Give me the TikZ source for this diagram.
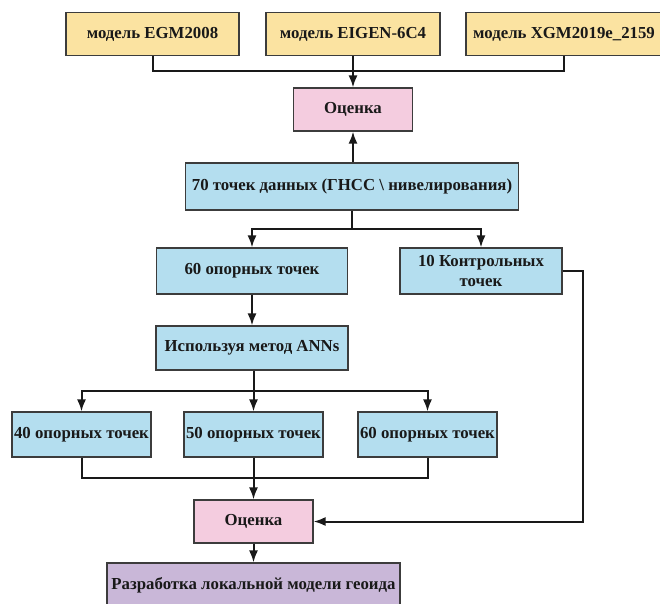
\documentclass[tikz,border=0pt]{standalone}
\usepackage{fontspec}
\setmainfont{Liberation Serif}
\usetikzlibrary{arrows.meta}
\definecolor{cyel}{HTML}{FBE3A1}
\definecolor{cpink}{HTML}{F4CCDF}
\definecolor{cblue}{HTML}{B4DEEF}
\definecolor{cpurp}{HTML}{C9B7D8}
\definecolor{cedge}{HTML}{3C3C3C}
\begin{document}
\begin{tikzpicture}[x=1pt,y=-1pt,
  box/.style={draw=cedge,line width=1.1pt,inner sep=1pt,align=center,
    font=\fontsize{16.8}{20}\selectfont\bfseries,text=black!90},
  yel/.style={box,fill=cyel},
  pnk/.style={box,fill=cpink},
  blu/.style={box,fill=cblue},
  pur/.style={box,fill=cpurp},
  conn/.style={line width=2pt,black!90},
  arr/.style={conn,-{Latex[length=12pt,width=9pt]}}]
\useasboundingbox (0,0) rectangle (660,603);
\clip (0,0) rectangle (660,603);
\node[yel,minimum width=173pt,minimum height=43pt] (egm) at (152.5,34) {модель EGM2008};
\node[yel,minimum width=174pt,minimum height=43pt] (eigen) at (353,34) {модель EIGEN-6C4};
\node[yel,minimum width=196pt,minimum height=43pt] (xgm) at (564,34) {модель XGM2019e\_2159};
\node[pnk,minimum width=119pt,minimum height=43pt] (est1) at (353,109.5) {Оценка};
\node[blu,minimum width=333pt,minimum height=47pt] (d70) at (352,186.5) {70 точек данных (ГНСС \textbackslash{} нивелирования)};
\node[blu,minimum width=191pt,minimum height=46pt] (p60) at (252,271) {60 опорных точек};
\node[blu,minimum width=162pt,minimum height=46pt] (c10) at (481,271) {10 Контрольных\\точек};
\node[blu,minimum width=192pt,minimum height=44pt] (ann) at (252,348) {Используя метод ANNs};
\node[blu,minimum width=139pt,minimum height=45pt] (p40) at (81.5,434.5) {40 опорных точек};
\node[blu,minimum width=139pt,minimum height=45pt] (p50) at (253.5,434.5) {50 опорных точек};
\node[blu,minimum width=139pt,minimum height=45pt] (p60b) at (427.5,434.5) {60 опорных точек};
\node[pnk,minimum width=119pt,minimum height=43pt] (est2) at (253.5,521.5) {Оценка};
\node[pur,minimum width=293pt,minimum height=44pt] (dev) at (253.5,585) {Разработка локальной модели геоида};
% connectors
\coordinate (j1) at (353,71);
\draw[conn] (egm.south) |- (j1) -| (xgm.south);
\draw[arr] (eigen.south) -- (est1.north);
\draw[arr] (est1.south |- d70.north) -- (est1.south);
\coordinate (j2) at (352,229);
\draw[conn] (d70.south) -- (j2);
\draw[arr] (j2) -| (p60.north);
\draw[arr] (j2) -| (c10.north);
\draw[arr] (p60.south) -- (ann.north);
\coordinate (j3) at (253.5,391);
\draw[conn] (j3 |- ann.south) -- (j3);
\draw[arr] (j3) -| (p40.north);
\draw[arr] (j3) -- (p50.north);
\draw[arr] (j3) -| (p60b.north);
\coordinate (j4) at (253.5,478);
\draw[conn] (p40.south) |- (j4) -| (p60b.south);
\draw[conn] (p50.south) -- (j4);
\draw[arr] (j4) -- (est2.north);
\coordinate (r1) at (583,271);
\draw[arr] (c10.east) -- (r1) |- (est2.east);
\draw[arr] (est2.south) -- (dev.north);
\end{tikzpicture}
\end{document}
